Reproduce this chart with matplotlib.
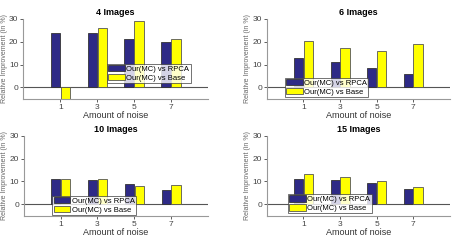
import matplotlib.pyplot as plt
import numpy as np

plt.rcParams['font.family'] = ['Liberation Sans', 'DejaVu Sans']

noise = [1, 3, 5, 7]
titles = ['4 Images', '6 Images', '10 Images', '15 Images']

vs_rpca = [
    [24.0, 23.8, 21.3, 20.0],
    [13.0, 11.3, 8.4, 5.9],
    [11.1, 10.5, 9.1, 6.3],
    [11.3, 10.7, 9.2, 6.6],
]
vs_base = [
    [-5.0, 26.1, 29.2, 21.3],
    [20.3, 17.1, 15.9, 18.9],
    [11.3, 11.1, 8.2, 8.6],
    [13.1, 12.0, 10.1, 7.6],
]

# axes rectangles [left, bottom, width, height] and legend anchors (axes coords)
rects = [
    [0.051, 0.598, 0.404, 0.325],
    [0.584, 0.598, 0.400, 0.325],
    [0.052, 0.123, 0.403, 0.325],
    [0.584, 0.123, 0.400, 0.325],
]
leg_pos = [(0.453, 0.20), (0.097, 0.025), (0.156, 0.01), (0.115, 0.03)]

blue = '#2e2a86'
yellow = '#ffff00'

fig = plt.figure(figsize=(4.57, 2.46), dpi=100)

for i in range(4):
    ax = fig.add_axes(rects[i])
    x = np.array(noise)
    ax.bar(x - 0.27, vs_rpca[i], width=0.5, color=blue, edgecolor='#333333',
           linewidth=0.6, label='Our(MC) vs RPCA')
    ax.bar(x + 0.27, vs_base[i], width=0.5, color=yellow, edgecolor='#555555',
           linewidth=0.6, label='Our(MC) vs Base')
    ax.axhline(0, color='#555555', linewidth=0.8, zorder=0)
    ax.set_xlim(-1, 9)
    ax.set_ylim(-5, 30)
    ax.set_xticks(noise)
    ax.set_yticks([0, 10, 20, 30])
    for s in ['top', 'right']:
        ax.spines[s].set_visible(False)
    for s in ['left', 'bottom']:
        ax.spines[s].set_color('#999999')
        ax.spines[s].set_linewidth(0.8)
    ax.tick_params(labelsize=6, colors='#444444', length=2, width=0.6, pad=1.5)
    ax.set_xlabel('Amount of noise', fontsize=6.5, color='#333333', labelpad=0.5)
    ax.set_ylabel('Relative Improvement (in %)', fontsize=5, color='#666666', labelpad=1)
    ax.set_title(titles[i], fontsize=6.5, fontweight='bold', pad=3)
    leg = ax.legend(loc='lower left', bbox_to_anchor=leg_pos[i], fontsize=5.5,
                    frameon=True, fancybox=False, edgecolor='#333333',
                    handlelength=2.2, handleheight=0.9, handletextpad=0.2,
                    borderpad=0.15, labelspacing=0.15, borderaxespad=0)
    leg.get_frame().set_linewidth(0.6)

fig.savefig('out.png', dpi=100)
